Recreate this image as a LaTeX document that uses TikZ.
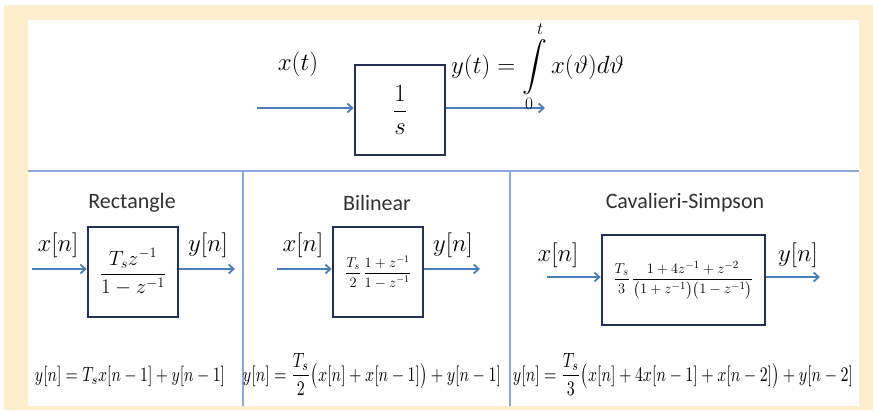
\documentclass[tikz,border=0pt]{standalone}
\usepackage{amsmath}
\usepackage{graphicx}
\usepackage{fontspec}
\newfontfamily\titlefont{Carlito}
\usetikzlibrary{arrows.meta}
\definecolor{cream}{RGB}{255,238,206}
\definecolor{sigblue}{RGB}{74,126,187}
\definecolor{divblue}{RGB}{140,170,215}
\definecolor{navy}{RGB}{36,48,88}
\definecolor{ttl}{RGB}{50,50,50}
\newcommand{\fiteq}[2]{\scalebox{1}[1.3]{\resizebox{#1}{!}{#2}}}
\begin{document}
\begin{tikzpicture}[x=1pt,y=-1pt,
  blk/.style={draw=navy, line width=2.6pt, fill=white, inner sep=0pt},
  sig/.style={draw=sigblue, line width=1.5pt, -{Straight Barb[length=5pt,width=9pt,line width=1.8pt]}},
  divider/.style={draw=divblue, line width=1.6pt},
  lbl/.style={inner sep=0pt, font=\fontsize{23}{26}\selectfont},
  ttlstyle/.style={inner sep=0pt, text=ttl, font=\titlefont\fontsize{22}{26}\selectfont},
  eqn/.style={inner sep=0pt, anchor=base}]
\useasboundingbox (0,0) rectangle (873,410);
\fill[cream] (4,5) rectangle (873,410);
\fill[white] (28,20) rectangle (859,406);
% dividers
\coordinate (hl) at (28,171);
\coordinate (hr) at (859,171);
\coordinate (v1t) at (243,171);
\coordinate (v1b) at (243,406);
\coordinate (v2t) at (510,171);
\coordinate (v2b) at (510,406);
\draw[divider] (hl) -- (hr);
\draw[divider] (v1t) -- (v1b);
\draw[divider] (v2t) -- (v2b);

% top integrator
\node[blk, minimum width=90pt, minimum height=90pt, font=\fontsize{25}{29}\selectfont] (int) at (400,110) {$\dfrac{1}{s}$};
\coordinate (intin) at (257,108);
\coordinate (intout) at (545,108);
\draw[sig] (intin) -- (int.west |- intin);
\draw[sig] (int.east |- intout) -- (intout);
\node[lbl, font=\fontsize{27}{30}\selectfont] (xt) at (298,64) {$x(t)$};
\node[lbl, anchor=base west, font=\fontsize{25.5}{30}\selectfont] (yt) at (451,73) {$y(t)=\displaystyle\int\limits_0^t x(\vartheta)d\vartheta$};

% Rectangle
\node[ttlstyle] (t1) at (132,203) {Rectangle};
\node[blk, minimum width=90pt, minimum height=90pt, font=\fontsize{20}{24}\selectfont] (b1) at (133,272) {$\dfrac{T_s z^{-1}}{1-z^{-1}}$};
\coordinate (i1) at (32,269);
\coordinate (o1) at (235,269);
\draw[sig] (i1) -- (b1.west |- i1);
\draw[sig] (b1.east |- o1) -- (o1);
\node[lbl] (x1) at (58,245) {$x[n]$};
\node[lbl] (y1) at (208,245) {$y[n]$};
\node[eqn] (e1) at (130,381) {\fiteq{190pt}{$y[n]=T_s x[n-1]+y[n-1]$}};

% Bilinear
\node[ttlstyle] (t2) at (377,203) {Bilinear};
\node[blk, minimum width=90pt, minimum height=90pt, font=\fontsize{14}{17}\selectfont] (b2) at (378,272) {$\dfrac{T_s}{2}\,\dfrac{1+z^{-1}}{1-z^{-1}}$};
\coordinate (i2) at (277,269);
\coordinate (o2) at (480,269);
\draw[sig] (i2) -- (b2.west |- i2);
\draw[sig] (b2.east |- o2) -- (o2);
\node[lbl] (x2) at (303,245) {$x[n]$};
\node[lbl] (y2) at (453,245) {$y[n]$};
\node[eqn] (e2) at (372,381) {\fiteq{258pt}{$y[n]=\dfrac{T_s}{2}\bigl(x[n]+x[n-1]\bigr)+y[n-1]$}};

% Cavalieri-Simpson
\node[ttlstyle] (t3) at (685,203) {Cavalieri-Simpson};
\node[blk, minimum width=163pt, minimum height=90pt, font=\fontsize{15}{18}\selectfont] (b3) at (683.5,280) {$\dfrac{T_s}{3}\,\dfrac{1+4z^{-1}+z^{-2}}{\bigl(1+z^{-1}\bigr)\bigl(1-z^{-1}\bigr)}$};
\coordinate (i3) at (547,277);
\coordinate (o3) at (820,277);
\draw[sig] (i3) -- (b3.west |- i3);
\draw[sig] (b3.east |- o3) -- (o3);
\node[lbl] (x3) at (558,255) {$x[n]$};
\node[lbl] (y3) at (798,255) {$y[n]$};
\node[eqn] (e3) at (683,381) {\fiteq{340pt}{$y[n]=\dfrac{T_s}{3}\bigl(x[n]+4x[n-1]+x[n-2]\bigr)+y[n-2]$}};
\end{tikzpicture}
\end{document}
